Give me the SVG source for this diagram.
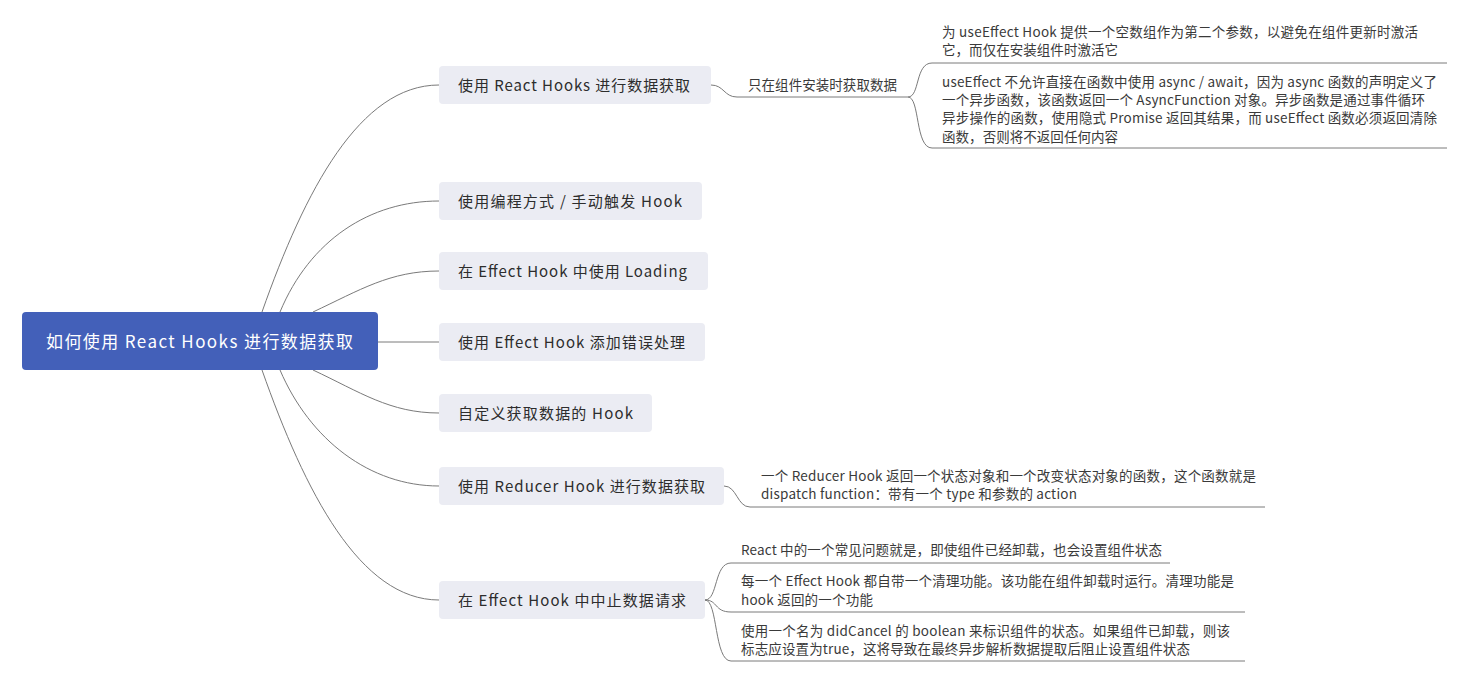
<svg xmlns="http://www.w3.org/2000/svg" width="1467" height="682" viewBox="0 0 1467 682">
<style>
text{font-family:"Noto Sans CJK SC","Noto Sans",sans-serif;dominant-baseline:central;}
.root rect{fill:#4360b9;}
.root text{fill:#ffffff;font-size:17px;}
.topic rect{fill:#ebecf3;}
.topic text{fill:#2d2d2d;font-size:15px;}
.sub text{fill:#3a3a3a;font-size:13.5px;}
.conn path{fill:none;stroke:#7a7a7a;stroke-width:1;}
</style>
<rect width="1467" height="682" fill="#ffffff"/>
<g id="connectors" class="conn">
<path d="M262,312 C305,190 360,85 439,85"/>
<path d="M280,312 C310,240 370,201 439,201"/>
<path d="M313,312 C360,290 390,271 439,271"/>
<path d="M378,342 H439"/>
<path d="M313,370 C360,392 390,413 439,413"/>
<path d="M280,370 C310,440 370,486 439,486"/>
<path d="M262,370 C305,492 360,600 439,600"/>
<path d="M711,85 C724,85 724,97 737,97 H908"/>
<path d="M908,97 C920,97 915,63 932,63 H1447"/>
<path d="M908,97 C920,97 915,148 932,148 H1447"/>
<path d="M724,486 C737,486 737,507 750,507 H1265"/>
<path d="M705,600 C718,600 714,563 731,563 H1170"/>
<path d="M705,600 C718,600 714,612 731,612 H1245"/>
<path d="M705,600 C718,600 714,661 731,661 H1245"/>
</g>
<g id="root" class="root">
<rect x="22" y="312" width="356" height="58" rx="4"/>
<text x="46" y="340" textLength="307" lengthAdjust="spacing">如何使用 React Hooks 进行数据获取</text>
</g>
<g id="n1" class="topic">
<rect x="439" y="66" width="272" height="38" rx="4"/>
<text x="458" y="84" textLength="232" lengthAdjust="spacing">使用 React Hooks 进行数据获取</text>
</g>
<g id="n2" class="topic">
<rect x="439" y="182" width="263" height="38" rx="4"/>
<text x="458" y="200" textLength="224" lengthAdjust="spacing">使用编程方式 / 手动触发 Hook</text>
</g>
<g id="n3" class="topic">
<rect x="439" y="252" width="269" height="38" rx="4"/>
<text x="458" y="270" textLength="229" lengthAdjust="spacing">在 Effect Hook 中使用 Loading</text>
</g>
<g id="n4" class="topic">
<rect x="439" y="323" width="266" height="38" rx="4"/>
<text x="458" y="341" textLength="227" lengthAdjust="spacing">使用 Effect Hook 添加错误处理</text>
</g>
<g id="n5" class="topic">
<rect x="439" y="394" width="213" height="38" rx="4"/>
<text x="458" y="412" textLength="175" lengthAdjust="spacing">自定义获取数据的 Hook</text>
</g>
<g id="n6" class="topic">
<rect x="439" y="467" width="285" height="38" rx="4"/>
<text x="458" y="485" textLength="247" lengthAdjust="spacing">使用 Reducer Hook 进行数据获取</text>
</g>
<g id="n7" class="topic">
<rect x="439" y="581" width="266" height="38" rx="4"/>
<text x="458" y="599" textLength="228" lengthAdjust="spacing">在 Effect Hook 中中止数据请求</text>
</g>
<g id="s1" class="sub">
<text x="748" y="84" textLength="149" lengthAdjust="spacing">只在组件安装时获取数据</text>
</g>
<g id="s1a" class="sub">
<text x="942" y="31" textLength="476" lengthAdjust="spacing">为 useEffect Hook 提供一个空数组作为第二个参数，以避免在组件更新时激活</text>
<text x="942" y="49" textLength="176" lengthAdjust="spacing">它，而仅在安装组件时激活它</text>
</g>
<g id="s1b" class="sub">
<text x="942" y="81" textLength="495" lengthAdjust="spacing">useEffect 不允许直接在函数中使用 async / await，因为 async 函数的声明定义了</text>
<text x="942" y="99" textLength="483" lengthAdjust="spacing">一个异步函数，该函数返回一个 AsyncFunction 对象。异步函数是通过事件循环</text>
<text x="942" y="117" textLength="495" lengthAdjust="spacing">异步操作的函数，使用隐式 Promise 返回其结果，而 useEffect 函数必须返回清除</text>
<text x="942" y="136" textLength="176" lengthAdjust="spacing">函数，否则将不返回任何内容</text>
</g>
<g id="s6" class="sub">
<text x="761" y="475" textLength="495" lengthAdjust="spacing">一个 Reducer Hook 返回一个状态对象和一个改变状态对象的函数，这个函数就是</text>
<text x="761" y="493" textLength="316" lengthAdjust="spacing">dispatch function：带有一个 type 和参数的 action</text>
</g>
<g id="s7a" class="sub">
<text x="741" y="549" textLength="421" lengthAdjust="spacing">React 中的一个常见问题就是，即使组件已经卸载，也会设置组件状态</text>
</g>
<g id="s7b" class="sub">
<text x="741" y="580" textLength="493" lengthAdjust="spacing">每一个 Effect Hook 都自带一个清理功能。该功能在组件卸载时运行。清理功能是</text>
<text x="741" y="599" textLength="132" lengthAdjust="spacing">hook 返回的一个功能</text>
</g>
<g id="s7c" class="sub">
<text x="741" y="630" textLength="489" lengthAdjust="spacing">使用一个名为 didCancel 的 boolean 来标识组件的状态。如果组件已卸载，则该</text>
<text x="741" y="648" textLength="449" lengthAdjust="spacing">标志应设置为true，这将导致在最终异步解析数据提取后阻止设置组件状态</text>
</g>
</svg>
